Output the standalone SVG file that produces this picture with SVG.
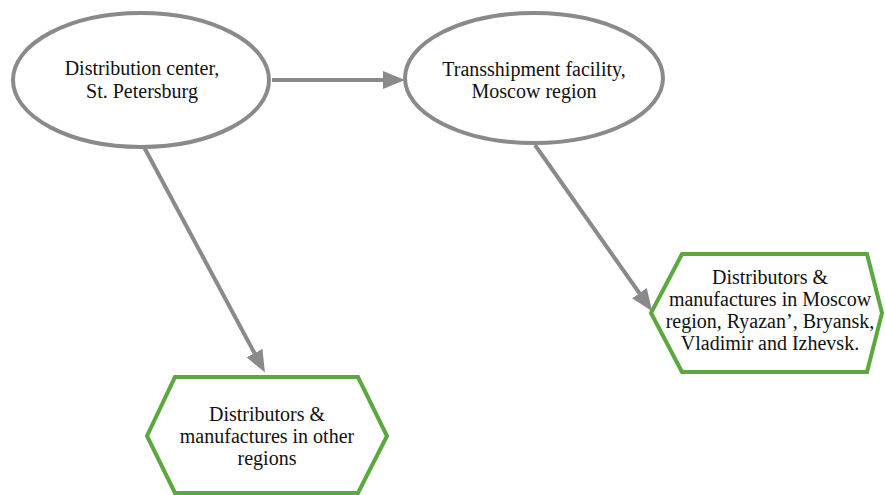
<svg xmlns="http://www.w3.org/2000/svg" width="885" height="495" viewBox="0 0 885 495">
  <style>
    .oval { fill: #ffffff; stroke: #8a8a8a; stroke-width: 4; }
    .hex { fill: #ffffff; stroke: #5aa83e; stroke-width: 4; stroke-linejoin: miter; }
    .edge { fill: none; stroke: #8a8a8a; stroke-width: 4; }
    .label { font-size: 20px; fill: #111111; text-anchor: middle; }
  </style>
  <defs>
    <marker id="arrow" markerUnits="userSpaceOnUse" markerWidth="24" markerHeight="20" refX="1" refY="9" orient="auto">
      <path d="M0,0 L22,9 L0,18 z" fill="#8a8a8a"/>
    </marker>
  </defs>

  <rect width="885" height="495" fill="#ffffff"/>

  <!-- connectors -->
  <g id="edges">
    <line class="edge" x1="272" y1="80" x2="384" y2="80" marker-end="url(#arrow)"/>
    <line class="edge" x1="144" y1="147" x2="255" y2="354" marker-end="url(#arrow)"/>
    <line class="edge" x1="535" y1="145" x2="640" y2="294" marker-end="url(#arrow)"/>
  </g>

  <g font-family="'Liberation Serif', 'Times New Roman', 'DejaVu Serif', serif">
    <g id="node-spb">
      <ellipse class="oval" cx="141" cy="80" rx="128" ry="67"/>
      <text class="label" x="142" y="75">Distribution center,</text>
      <text class="label" x="142" y="98">St. Petersburg</text>
    </g>

    <g id="node-moscow">
      <ellipse class="oval" cx="534" cy="78" rx="129" ry="65"/>
      <text class="label" x="534" y="76">Transshipment facility,</text>
      <text class="label" x="534" y="98">Moscow region</text>
    </g>

    <g id="node-moscow-distributors">
      <polygon class="hex" points="682,254 867,254 882,313 867,372 682,372 651,313"/>
      <text class="label" x="770" y="284">Distributors &amp;</text>
      <text class="label" x="770" y="306">manufactures in Moscow</text>
      <text class="label" x="770" y="328">region, Ryazan’, Bryansk,</text>
      <text class="label" x="770" y="350">Vladimir and Izhevsk.</text>
    </g>

    <g id="node-other-distributors">
      <polygon class="hex" points="175,377 358,377 387,436 358,493 175,493 147,436"/>
      <text class="label" x="267" y="421">Distributors &amp;</text>
      <text class="label" x="267" y="443">manufactures in other</text>
      <text class="label" x="267" y="465">regions</text>
    </g>
  </g>
</svg>
